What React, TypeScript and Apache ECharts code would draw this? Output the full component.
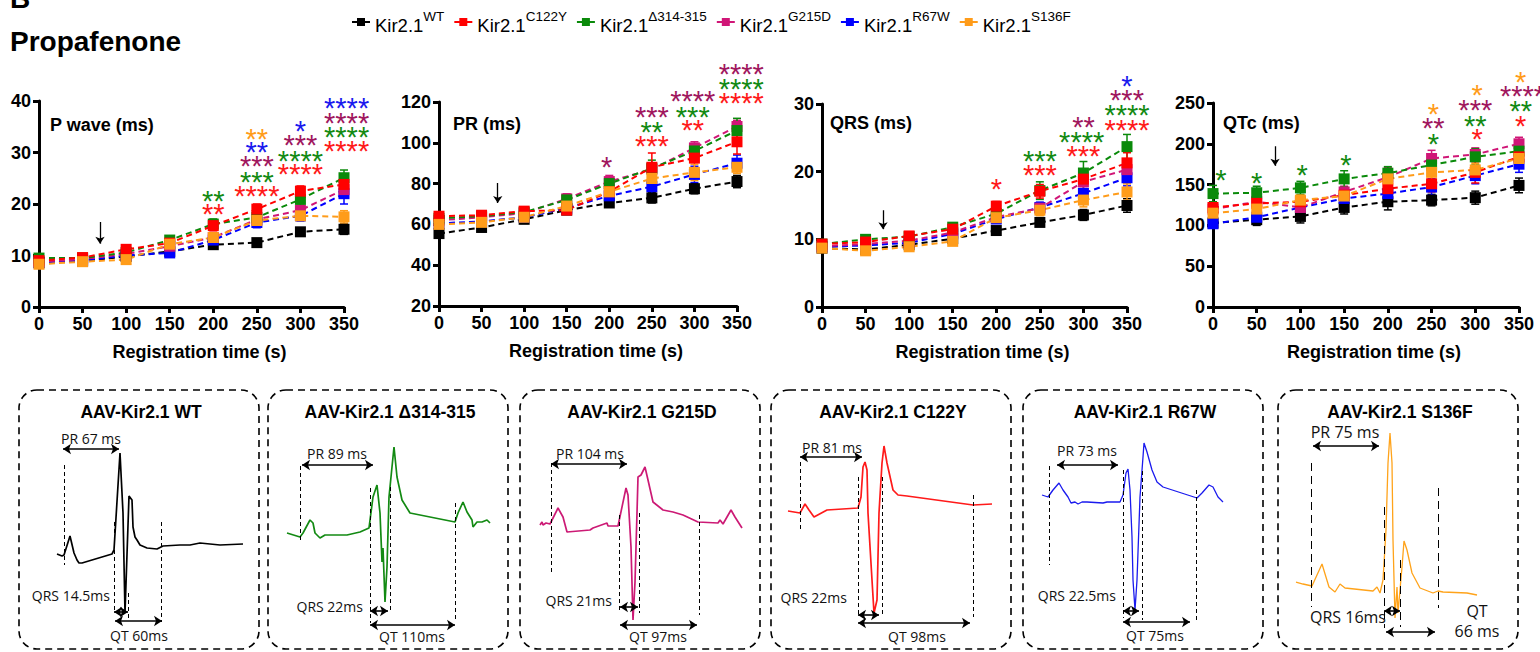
import React, { useEffect, useRef } from "react";
import * as echarts from "echarts";

// ---------- data ----------
const TIMES = [0, 50, 100, 150, 200, 250, 300, 350];
const GROUPS = ["WT", "C122Y", "Δ314-315", "G215D", "R67W", "S136F"];
const GROUP_COLORS = ["#000000", "#ff0000", "#0a8a0a", "#d01677", "#0000ff", "#ff9c1a"];
const STAR_COLORS = ["#000000", "#ff1a1a", "#138a13", "#a0175e", "#1a1aee", "#ff9c1a"];

const P_WAVE_MEAN = [
  [8.6, 8.9, 9.8, 10.8, 12.1, 12.5, 14.6, 15.1],
  [9.0, 9.6, 11.2, 12.4, 15.8, 19.0, 22.5, 23.8],
  [9.5, 9.5, 10.6, 13.0, 16.1, 17.4, 20.9, 25.1],
  [8.8, 9.3, 10.3, 11.8, 13.5, 17.0, 18.8, 22.8],
  [8.6, 9.0, 10.0, 10.5, 13.0, 16.4, 17.7, 22.0],
  [8.3, 8.8, 9.2, 12.2, 13.5, 16.8, 17.7, 17.5],
];
const P_WAVE_SEM = [
  [0.5, 0.4, 0.5, 0.6, 0.7, 0.7, 0.6, 1.0],
  [0.6, 0.5, 0.6, 0.7, 1.0, 1.0, 1.0, 1.5],
  [0.6, 0.5, 0.6, 0.8, 1.0, 1.0, 1.2, 1.5],
  [0.5, 0.5, 0.6, 0.7, 0.8, 0.9, 1.0, 1.2],
  [0.5, 0.5, 0.6, 0.8, 0.8, 1.0, 1.0, 2.0],
  [0.5, 0.5, 0.6, 0.6, 0.8, 0.8, 0.8, 1.2],
];
const PR_MEAN = [
  [55.5, 58.5, 62.5, 67.0, 70.5, 73.0, 77.5, 81.0],
  [64.0, 64.5, 66.5, 67.0, 76.0, 88.0, 92.5, 100.5],
  [63.0, 64.0, 66.0, 72.0, 80.0, 87.5, 96.0, 106.0],
  [62.0, 63.5, 65.5, 72.5, 81.0, 87.0, 97.5, 108.0],
  [60.5, 61.5, 63.5, 68.0, 74.0, 78.5, 84.5, 90.0],
  [60.0, 61.0, 63.5, 69.0, 76.0, 82.5, 85.5, 88.0],
];
const PR_SEM = [
  [2, 2, 2, 2, 2, 2.5, 2.5, 3],
  [2, 2, 2, 2, 3, 7, 5, 6],
  [2, 2, 2, 2.5, 3, 4, 3, 6],
  [2, 2, 2, 2.5, 3, 3, 3, 3],
  [2, 2, 2, 2, 3, 4, 4, 4],
  [2, 2, 2, 2, 3, 4, 4, 3],
];
const QRS_MEAN = [
  [8.7, 8.5, 9.2, 10.1, 11.3, 12.5, 13.6, 15.0],
  [9.3, 9.6, 10.5, 11.5, 14.9, 17.1, 18.9, 21.3],
  [9.3, 10.0, 10.4, 11.8, 13.8, 17.2, 19.8, 23.7],
  [9.0, 9.3, 9.8, 11.0, 13.3, 14.6, 18.5, 20.3],
  [8.9, 9.1, 9.5, 10.8, 13.0, 14.7, 16.8, 19.1],
  [8.7, 8.3, 8.9, 9.7, 13.2, 14.3, 15.8, 17.0],
];
const QRS_SEM = [
  [0.4, 0.4, 0.4, 0.4, 0.5, 0.5, 0.8, 1.0],
  [0.4, 0.4, 0.5, 0.5, 0.7, 1.0, 1.0, 1.5],
  [0.4, 0.4, 0.5, 0.6, 0.8, 1.3, 1.7, 1.8],
  [0.4, 0.4, 0.4, 0.5, 0.6, 0.8, 1.0, 1.2],
  [0.4, 0.4, 0.4, 0.5, 0.6, 0.8, 1.2, 1.2],
  [0.4, 0.4, 0.4, 0.5, 0.6, 0.8, 1.0, 1.2],
];
const QTC_MEAN = [
  [103, 107, 111, 122, 129, 131, 134, 149],
  [122, 127, 129, 137, 145, 151, 165, 184],
  [139, 140, 146, 157, 164, 174, 184, 191],
  [120, 129, 122, 141, 159, 182, 187, 200],
  [102, 110, 122, 133, 139, 147, 161, 175],
  [115, 120, 131, 136, 157, 165, 168, 182],
];
const QTC_SEM = [
  [6, 7, 8, 8, 10, 7, 8, 9],
  [5, 6, 6, 7, 8, 10, 13, 10],
  [10, 8, 8, 10, 8, 8, 10, 10],
  [5, 6, 6, 7, 12, 10, 8, 8],
  [5, 6, 6, 7, 8, 10, 10, 10],
  [5, 6, 6, 7, 8, 10, 8, 8],
];

// significance stars: [time, y position, group index, text]
const P_WAVE_STARS = [
  [200, 21.9, 2, "**"], [200, 19.4, 1, "**"],
  [250, 34.0, 5, "**"], [250, 31.4, 4, "**"], [250, 28.7, 3, "***"], [250, 25.6, 2, "***"], [250, 22.9, 1, "****"],
  [300, 35.5, 4, "*"], [300, 32.9, 3, "***"], [300, 29.7, 2, "****"], [300, 27.2, 1, "****"],
  [353, 40.0, 4, "****"], [353, 37.1, 3, "****"], [353, 34.4, 2, "****"], [353, 31.6, 1, "****"],
];
const PR_STARS = [
  [197, 91.6, 3, "*"],
  [250, 116, 3, "***"], [250, 108.7, 2, "**"], [250, 101.9, 1, "***"],
  [298, 123.9, 3, "****"], [298, 116, 2, "***"], [298, 109.7, 1, "**"],
  [355, 137, 3, "****"], [355, 129.8, 2, "****"], [355, 123, 1, "****"],
];
const QRS_STARS = [
  [200, 18.5, 1, "*"],
  [250, 22.6, 2, "***"], [250, 20.5, 1, "***"],
  [300, 27.6, 3, "**"], [298, 25.4, 2, "****"], [300, 23.3, 1, "***"],
  [350, 33.7, 4, "*"], [350, 31.6, 3, "***"], [350, 29.4, 2, "****"], [350, 27.2, 1, "****"],
];
const QTC_STARS = [
  [9, 164, 2, "*"], [50, 160, 2, "*"], [102, 170, 2, "*"], [152, 183, 2, "*"],
  [252, 245, 5, "*"], [252, 228, 3, "**"], [252, 208, 2, "*"],
  [302, 268, 5, "*"], [300, 250, 3, "***"], [300, 231, 2, "**"], [302, 214, 1, "*"],
  [352, 284, 5, "*"], [354, 267, 3, "****"], [352, 249, 2, "**"], [352, 231, 1, "*"],
];
// drug application arrow: [time, from, to]
const P_WAVE_ARROW = [70, 16.5, 12.3];
const PR_ARROW = [69, 80.3, 70.5];
const QRS_ARROW = [70, 14.3, 11.5];
const QTC_ARROW = [71, 197, 173];

// ECG traces [time, amplitude] in panel units
const ECG_WT = [[38,95],[43,93],[45,94],[51,113],[55,96],[58,89],[60,86],[63,86],[93,95],[95,99],[101,196],[104,136],[106,36],[110,153],[113,149],[114,122],[116,112],[118,109],[121,104],[128,101],[138,100],[144,103],[161,104],[171,104],[181,106],[191,105],[201,104],[224,105]];
const ECG_D314 = [[19,116],[32,112],[35,116],[42,129],[45,126],[47,116],[52,111],[57,114],[65,114],[79,114],[92,117],[101,121],[105,152],[109,164],[112,136],[114,87],[115,101],[117,47],[119,82],[121,152],[126,202],[129,172],[134,149],[142,136],[187,127],[190,136],[195,147],[199,137],[204,129],[205,122],[209,127],[214,127],[219,129],[222,126]];
const ECG_G215D = [[20,124],[22,127],[23,124],[26,126],[30,125],[38,141],[43,132],[47,117],[70,119],[73,121],[87,126],[88,123],[98,123],[106,161],[108,154],[111,102],[113,29],[115,67],[117,136],[118,172],[121,174],[125,182],[128,169],[133,147],[143,139],[153,137],[163,134],[178,127],[198,126],[200,129],[203,125],[211,139],[215,132],[222,121]];
const ECG_C122Y = [[17,138],[29,136],[34,145],[38,139],[43,132],[56,139],[87,141],[90,152],[92,182],[94,187],[96,179],[97,136],[101,69],[103,36],[106,49],[108,136],[111,186],[113,203],[116,186],[122,159],[127,154],[136,153],[202,144],[221,145]];
const ECG_R67W = [[19,154],[25,152],[30,159],[36,166],[40,159],[45,152],[48,146],[52,147],[55,145],[59,147],[64,147],[80,146],[84,147],[97,147],[100,154],[103,176],[105,180],[107,159],[109,112],[110,69],[112,39],[114,69],[117,152],[120,192],[121,206],[124,197],[129,179],[134,167],[140,162],[174,151],[179,156],[186,164],[190,162],[195,152],[200,147]];
const ECG_S136F = [[18,67],[25,65],[34,63],[44,85],[51,62],[57,57],[62,65],[67,61],[95,58],[99,62],[102,56],[105,69],[108,119],[110,186],[112,216],[114,186],[115,109],[117,31],[119,62],[120,36],[122,59],[124,82],[126,108],[129,99],[134,76],[142,61],[155,56],[160,58],[165,57],[189,56],[199,54]];

const ECG_TITLES = ["AAV-Kir2.1 WT", "AAV-Kir2.1 Δ314-315", "AAV-Kir2.1 G215D", "AAV-Kir2.1 C122Y", "AAV-Kir2.1 R67W", "AAV-Kir2.1 S136F"];
const ECG_TRACES = [ECG_WT, ECG_D314, ECG_G215D, ECG_C122Y, ECG_R67W, ECG_S136F];
const ECG_COLORS = ["#000000", "#138a13", "#cc1a75", "#ff1a1a", "#1a1aee", "#ffa31a"];
// dashed markers [time, from, to]
const ECG_DASHED = [
  [[45,184,84],[95,127,36],[109,56,29],[142,127,27]],
  [[32,183,109],[102,161,26],[122,162,36],[187,146,27]],
  [[31,186,77],[99,134,36],[119,136,36],[179,134,34]],
  [[29,187,119],[87,172,34],[111,172,34],[202,154,32]],
  [[26,183,84],[100,179,31],[119,178,29],[173,159,29]],
  [[33,186,42],[106,142,21],[122,89,22],[160,161,41]],
];
// interval arrows [from, to, level]
const ECG_ARROWS = [
  [[44,100,200],[95,109,37],[96,143,28]],
  [[34,105,184],[102,120,38],[102,187,24]],
  [[31,107,185],[100,118,42],[100,177,24]],
  [[29,91,192],[87,108,34],[87,199,26]],
  [[34,95,184],[100,116,38],[100,167,27]],
  [[35,101,203],[106,122,38],[108,157,17]],
];
const ECG_LABELS = [
  [["PR 67 ms",72,211,"center"],["QRS 14.5ms",91,54,"right"],["QT 60ms",120,14,"center"]],
  [["PR 89 ms",69,196,"center"],["QRS 22ms",95,43,"right"],["QT 110ms",144,13,"center"]],
  [["PR 104 ms",70,196,"center"],["QRS 21ms",92,49,"right"],["QT 97ms",138,13,"center"]],
  [["PR 81 ms",61,202,"center"],["QRS 22ms",76,52,"right"],["QT 98ms",146,13,"center"]],
  [["PR 73 ms",64,199,"center"],["QRS 22.5ms",93,54,"right"],["QT 75ms",132,14,"center"]],
  [["PR 75 ms",67,217,"center"],["QRS 16ms",32,32,"left"],["QT",199,38,"center"],["66 ms",199,18,"center"]],
];

// ---------- layout ----------
const TOP_GRIDS = [
  { left: 39, top: 101, width: 305, height: 206 },
  { left: 439, top: 102, width: 298, height: 204 },
  { left: 822, top: 104, width: 305, height: 203 },
  { left: 1213, top: 103, width: 306, height: 204 },
];
const METRICS = [
  { label: "P wave (ms)", min: 0, max: 40, step: 10, mean: P_WAVE_MEAN, sem: P_WAVE_SEM, stars: P_WAVE_STARS, arrow: P_WAVE_ARROW, lx: 50, ly: 125 },
  { label: "PR (ms)", min: 20, max: 120, step: 20, mean: PR_MEAN, sem: PR_SEM, stars: PR_STARS, arrow: PR_ARROW, lx: 453, ly: 124 },
  { label: "QRS (ms)", min: 0, max: 30, step: 10, mean: QRS_MEAN, sem: QRS_SEM, stars: QRS_STARS, arrow: QRS_ARROW, lx: 830, ly: 123 },
  { label: "QTc (ms)", min: 0, max: 250, step: 50, mean: QTC_MEAN, sem: QTC_SEM, stars: QTC_STARS, arrow: QTC_ARROW, lx: 1223, ly: 123 },
];
const ECG_LEFTS = [19, 268, 520, 771, 1023, 1278];
const ECG_TOP = 390;
const ECG_W = 240;
const ECG_H = 259;
const DRAW_ORDER = [0, 4, 3, 2, 1, 5];
const FONT = "Liberation Sans";

function buildOption() {
  const grids: any[] = [];
  const xAxes: any[] = [];
  const yAxes: any[] = [];
  const series: any[] = [];
  const graphic: any[] = [];

  const axisCommon = {
    axisLine: { show: true, onZero: false, lineStyle: { color: "#000", width: 3 } },
    axisTick: { show: true, length: 6, lineStyle: { color: "#000", width: 3 } },
    axisLabel: { color: "#000", fontSize: 18, fontWeight: "bold", fontFamily: FONT, margin: 8 },
    splitLine: { show: false },
  };

  METRICS.forEach((m, i) => {
    grids.push({ ...TOP_GRIDS[i], containLabel: false });
    xAxes.push({
      gridIndex: i, type: "value", min: 0, max: 350, interval: 50, ...axisCommon,
      name: "Registration time (s)", nameLocation: "middle", nameGap: 36,
      nameTextStyle: { color: "#000", fontSize: 18, fontWeight: "bold", fontFamily: FONT, padding: [0, 0, 0, 16] },
    });
    yAxes.push({ gridIndex: i, type: "value", min: m.min, max: m.max, interval: m.step, ...axisCommon });

    DRAW_ORDER.forEach((g) => {
      const color = GROUP_COLORS[g];
      series.push({
        type: "custom", name: "err-" + i + "-" + g, xAxisIndex: i, yAxisIndex: i, silent: true, z: 2,
        data: TIMES.map((t, k) => [t, m.mean[g][k], m.sem[g][k]]),
        encode: { x: 0, y: 1 },
        renderItem: (params: any, api: any) => {
          const x = api.value(0), y = api.value(1), e = api.value(2);
          const hi = api.coord([x, y + e]);
          const lo = api.coord([x, y - e]);
          const w = 4;
          const st = { stroke: color, lineWidth: 1.5 };
          return {
            type: "group",
            children: [
              { type: "line", shape: { x1: hi[0], y1: hi[1], x2: lo[0], y2: lo[1] }, style: st },
              { type: "line", shape: { x1: hi[0] - w, y1: hi[1], x2: hi[0] + w, y2: hi[1] }, style: st },
              { type: "line", shape: { x1: lo[0] - w, y1: lo[1], x2: lo[0] + w, y2: lo[1] }, style: st },
            ],
          };
        },
      });
      series.push({
        type: "line", name: GROUPS[g], xAxisIndex: i, yAxisIndex: i, z: 3,
        data: TIMES.map((t, k) => [t, m.mean[g][k]]),
        symbol: "rect", symbolSize: 11, showSymbol: true,
        lineStyle: { color, width: 2, type: [6, 4] },
        itemStyle: { color },
      });
    });

    series.push({
      type: "custom", name: "stars-" + i, xAxisIndex: i, yAxisIndex: i, silent: true, clip: false, z: 5,
      data: m.stars.map((s: any) => [s[0], s[1], s[2]]),
      encode: { x: 0, y: 1 },
      renderItem: (params: any, api: any) => {
        const s = m.stars[params.dataIndex] as any[];
        const pt = api.coord([s[0], s[1]]);
        return {
          type: "text", x: pt[0], y: pt[1] + 7,
          style: { text: s[3], fill: STAR_COLORS[s[2]], fontFamily: FONT, fontWeight: "normal", fontSize: 29, align: "center", verticalAlign: "middle" },
        };
      },
    });

    series.push({
      type: "line", name: "arrow-" + i, xAxisIndex: i, yAxisIndex: i, data: [], silent: true,
      markLine: {
        silent: true, animation: false, symbol: ["none", "arrow"], symbolSize: 7,
        label: { show: false }, lineStyle: { color: "#000", width: 1.3, type: "solid" },
        data: [[{ coord: [m.arrow[0], m.arrow[1]] }, { coord: [m.arrow[0], m.arrow[2]] }]],
      },
    });

    graphic.push({
      type: "text", x: m.lx, y: m.ly,
      style: { text: m.label, fill: "#000", fontSize: 18, fontWeight: "bold", fontFamily: FONT, align: "left", verticalAlign: "middle" },
    });
  });

  ECG_TRACES.forEach((trace, p) => {
    const gi = 4 + p;
    const L = ECG_LEFTS[p];
    grids.push({ left: L, top: ECG_TOP, width: ECG_W, height: ECG_H });
    xAxes.push({ gridIndex: gi, type: "value", min: 0, max: ECG_W, show: false });
    yAxes.push({ gridIndex: gi, type: "value", min: 0, max: ECG_H, show: false });
    const dash = p === 5 ? [8, 5] : [4, 3];
    const mlData: any[] = [];
    ECG_DASHED[p].forEach(([t, a, b]) => {
      mlData.push([
        { coord: [t, a], symbol: "none", lineStyle: { type: dash, width: 1, color: "#000" } },
        { coord: [t, b], symbol: "none" },
      ]);
    });
    ECG_ARROWS[p].forEach(([a, b, v]) => {
      mlData.push([
        { coord: [a, v], symbol: "arrow", lineStyle: { type: "solid", width: 1.6, color: "#000" } },
        { coord: [b, v], symbol: "arrow" },
      ]);
    });
    series.push({
      type: "line", name: "ecg-" + p, xAxisIndex: gi, yAxisIndex: gi, silent: true,
      data: trace, symbol: "none", showSymbol: false,
      lineStyle: { color: ECG_COLORS[p], width: p >= 4 ? 1.3 : 1.7 },
      markLine: { silent: true, animation: false, symbolSize: 8, label: { show: false }, data: mlData },
    });

    graphic.push({
      type: "rect", shape: { x: L, y: ECG_TOP, width: ECG_W, height: ECG_H, r: 18 },
      style: { fill: "none", stroke: "#000", lineWidth: 1.6, lineDash: [7, 5] },
    });
    graphic.push({
      type: "text", x: L + 122, y: 412,
      style: { text: ECG_TITLES[p], fill: "#000", fontSize: 17.5, fontWeight: "bold", fontFamily: FONT, align: "center", verticalAlign: "middle" },
    });
    ECG_LABELS[p].forEach(([text, t, v, align]: any) => {
      graphic.push({
        type: "text", x: L + t, y: ECG_TOP + ECG_H - v,
        style: { text, fill: "#111", fontSize: p === 5 ? 16 : 14, fontFamily: "Open Sans", align, verticalAlign: "middle" },
      });
    });
  });

  graphic.push({
    type: "text", x: 10, y: -2,
    style: { text: "B", fill: "#000", fontSize: 28, fontWeight: "bold", fontFamily: FONT, align: "left", verticalAlign: "middle" },
  });
  graphic.push({
    type: "text", x: 10, y: 41,
    style: { text: "Propafenone", fill: "#000", fontSize: 28, fontWeight: "bold", fontFamily: FONT, align: "left", verticalAlign: "middle" },
  });

  return {
    animation: false,
    backgroundColor: "#ffffff",
    legend: {
      data: GROUPS, left: 346, top: 4, itemWidth: 18, itemHeight: 10, itemGap: 9,
      lineStyle: { type: "solid", width: 2 },
      selectedMode: false,
      formatter: (name: string) => `{b|Kir2.1}{s|${name}}`,
      textStyle: {
        color: "#000", fontFamily: FONT, fontSize: 18,
        rich: {
          b: { fontSize: 18.5, fontFamily: FONT, lineHeight: 26, verticalAlign: "bottom", color: "#000" },
          s: { fontSize: 13.5, fontFamily: FONT, lineHeight: 14, verticalAlign: "top", color: "#000" },
        },
      },
    },
    grid: grids,
    xAxis: xAxes,
    yAxis: yAxes,
    series,
    graphic,
  };
}

export default function App() {
  const ref = useRef<HTMLDivElement>(null);
  useEffect(() => {
    const chart = echarts.init(ref.current!, null, { renderer: "svg" });
    chart.setOption(buildOption() as any);
    return () => chart.dispose();
  }, []);
  return <div ref={ref} style={{ position: "absolute", left: 0, top: 0, width: 1540, height: 652 }} />;
}
